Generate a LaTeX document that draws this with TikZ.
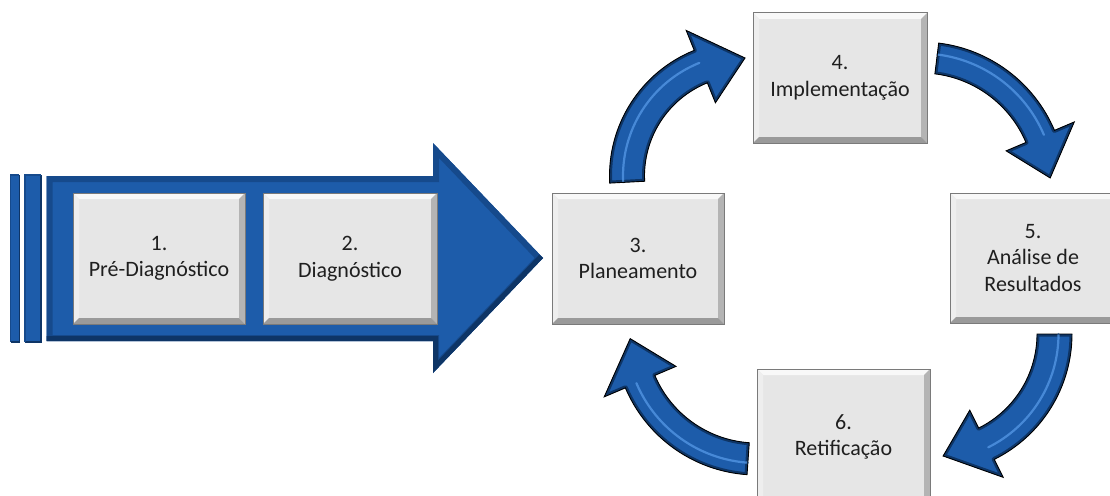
\documentclass[tikz,border=0pt]{standalone}
\usepackage{fontspec}
\setmainfont{Carlito}
\definecolor{abl}{HTML}{1D5CAA}
\definecolor{ablmid}{HTML}{164A8C}
\definecolor{abldark}{HTML}{0E3566}
\definecolor{abllight}{HTML}{5295E3}
\definecolor{boxface}{HTML}{E6E6E6}
\definecolor{boxline}{HTML}{7A7A7A}
\definecolor{bevlight}{HTML}{F8F8F8}
\definecolor{bevleft}{HTML}{EEEEEE}
\definecolor{bevside}{HTML}{B4B4B4}
\definecolor{bevdark}{HTML}{9A9A9A}
\tikzset{
  bevelbox/.style={draw=boxline, line width=1pt, fill=boxface, inner sep=0pt,
    align=center, text=black!88, font=\fontsize{22}{26.5}\selectfont,
    path picture={
      \fill[bevlight] (path picture bounding box.north west) -- (path picture bounding box.north east)
        -- ([xshift=-6pt,yshift=-6pt]path picture bounding box.north east)
        -- ([xshift=6pt,yshift=-6pt]path picture bounding box.north west) -- cycle;
      \fill[bevleft] (path picture bounding box.north west) -- (path picture bounding box.south west)
        -- ([xshift=6pt,yshift=6pt]path picture bounding box.south west)
        -- ([xshift=6pt,yshift=-6pt]path picture bounding box.north west) -- cycle;
      \fill[bevside] (path picture bounding box.north east) -- (path picture bounding box.south east)
        -- ([xshift=-6pt,yshift=6pt]path picture bounding box.south east)
        -- ([xshift=-6pt,yshift=-6pt]path picture bounding box.north east) -- cycle;
      \fill[bevdark] (path picture bounding box.south west) -- (path picture bounding box.south east)
        -- ([xshift=-6pt,yshift=6pt]path picture bounding box.south east)
        -- ([xshift=6pt,yshift=6pt]path picture bounding box.south west) -- cycle;
    }},
  cycfill/.style={fill=abl},
  cycband/.style={draw=abldark, line width=5pt, line join=round},
  cychl/.style={draw=abllight, line width=2.2pt, opacity=.8, line cap=round},
  cycedge/.style={draw=black, line width=0.9pt, line join=miter},
}
% cx, cy (image coords), r, w, hw, start, base, tip angles
\newcommand{\cycarrow}[8]{%
  \begin{scope}[shift={(#1,-#2)}]
    \pgfmathsetmacro\cRo{#3+#4}\pgfmathsetmacro\cRi{#3-#4}%
    \pgfmathsetmacro\cHo{#3+#5}\pgfmathsetmacro\cHi{#3-#5}%
    \pgfmathsetmacro\cHl{#3+4}%
    \def\cpth{(#6:\cRo) arc[start angle=#6, end angle=#7, radius=\cRo] -- (#7:\cHo) -- (#8:#3) -- (#7:\cHi) -- (#7:\cRi) arc[start angle=#7, end angle=#6, radius=\cRi] -- cycle}%
    \fill[cycfill] \cpth;
    \begin{scope}\clip \cpth; \draw[cycband] \cpth; \end{scope}
    \draw[cychl] (#6:\cHl) arc[start angle=#6, end angle=#7, radius=\cHl];
    \draw[cycedge] \cpth;
  \end{scope}}
\begin{document}
\begin{tikzpicture}[x=1pt,y=1pt]
\useasboundingbox (0,0) rectangle (1110,-495);
\clip (0,0) rectangle (1110,-495);
% big arrow
\def\bigpath{(46.7,-176) -- (433,-176) -- (433,-143) -- (543,-258) -- (433,-373) -- (433,-341) -- (46.7,-341) -- cycle}
\fill[abl] \bigpath;
\begin{scope}
  \clip \bigpath;
  \draw[ablmid, line width=12pt, line join=miter] \bigpath;
  \draw[abldark, line width=10pt] (46.7,-341) -- (433,-341) -- (433,-373) -- (543,-258);
\end{scope}
\foreach \xa/\xb in {10.7/19.3, 25/41}{
  \fill[abl] (\xa,-175) rectangle (\xb,-342);
  \draw[abldark, line width=1.5pt] (\xb,-175) -- (\xb,-342) -- (\xa,-342);
  \draw[ablmid, line width=1.5pt] (\xa,-342) -- (\xa,-175) -- (\xb,-175);
}
% boxes
\node[bevelbox, minimum width=172pt, minimum height=131pt] (b1) at (159,-258.5) {1.\\Pré-Diagnóstico};
\node[bevelbox, minimum width=174pt, minimum height=131pt] (b2) at (350,-258.5) {2.\\Diagnóstico};
\node[bevelbox, minimum width=172pt, minimum height=131pt] (b3) at (638,-258.5) {3.\\Planeamento};
\node[bevelbox, minimum width=174pt, minimum height=130pt] (b4) at (840,-78) {4.\\Implementação};
\node[bevelbox, minimum width=166pt, minimum height=130pt] (b5) at (1033,-258) {5.\\Análise de\\Resultados};
\node[bevelbox, minimum width=173pt, minimum height=136pt] (b6) at (843.5,-437) {6.\\Retificação};
% cycle arrows
\cycarrow{745}{176}{118}{17.5}{39}{183}{112}{90}
\cycarrow{921}{187}{129.5}{15.5}{37}{83}{23}{4}
\cycarrow{932}{334}{122.5}{17.5}{37.5}{0}{-63.6}{-84.8}
\cycarrow{757}{332}{127}{16}{39}{266}{203}{183}
\end{tikzpicture}
\end{document}
